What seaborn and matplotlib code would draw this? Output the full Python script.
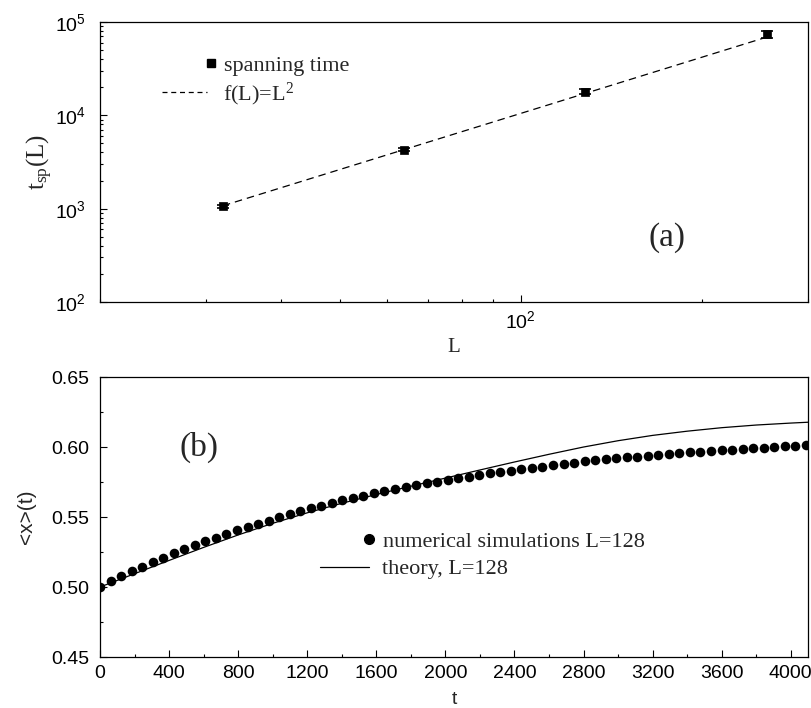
import numpy as np
import pandas as pd
import matplotlib
matplotlib.use("Agg")
import matplotlib.pyplot as plt
import seaborn as sns
from matplotlib.lines import Line2D
from matplotlib.ticker import FuncFormatter, NullFormatter, LogLocator, MultipleLocator


# === data: panel (a) spanning time ===
L_vals = [32, 64, 128, 256]
t_span = [1066, 4285, 17950, 73800]
t_span_err = [40, 150, 1000, 7000]
L_fit = [32, 64, 128, 256]
t_fit = [1075, 4300, 17200, 68800]

# === data: panel (b) <x>(t) ===
t_sim = [0, 61, 122, 183, 244, 305, 366, 427, 488, 549, 610, 671, 732, 793,
         854, 915, 976, 1037, 1098, 1159, 1220, 1281, 1342, 1403, 1464, 1525,
         1586, 1647, 1708, 1769, 1830, 1891, 1952, 2013, 2074, 2135, 2196,
         2257, 2318, 2379, 2440, 2501, 2562, 2623, 2684, 2745, 2806, 2867,
         2928, 2989, 3050, 3111, 3172, 3233, 3294, 3355, 3416, 3477, 3538,
         3599, 3660, 3721, 3782, 3843, 3904, 3965, 4026, 4087]
x_sim = [0.5000, 0.5043, 0.5076, 0.5114, 0.5146, 0.5181, 0.5210, 0.5243,
         0.5271, 0.5300, 0.5329, 0.5353, 0.5381, 0.5405, 0.5429, 0.5453,
         0.5474, 0.5498, 0.5521, 0.5543, 0.5562, 0.5578, 0.5600, 0.5619,
         0.5634, 0.5653, 0.5669, 0.5684, 0.5698, 0.5712, 0.5726, 0.5741,
         0.5753, 0.5764, 0.5776, 0.5788, 0.5803, 0.5812, 0.5821, 0.5831,
         0.5841, 0.5850, 0.5860, 0.5869, 0.5880, 0.5889, 0.5898, 0.5905,
         0.5912, 0.5919, 0.5926, 0.5931, 0.5938, 0.5945, 0.5953, 0.5957,
         0.5962, 0.5967, 0.5971, 0.5976, 0.5981, 0.5986, 0.5990, 0.5995,
         0.6000, 0.6005, 0.6010, 0.6014]
t_theory = [0, 200, 400, 600, 800, 1000, 1200, 1400, 1600, 1800, 2000, 2200,
            2400, 2600, 2800, 3000, 3200, 3400, 3600, 3800, 4000, 4100]
x_theory = [0.5000, 0.5095, 0.5190, 0.5283, 0.5372, 0.5455, 0.5530, 0.5598,
            0.5661, 0.5720, 0.5778, 0.5836, 0.5893, 0.5948, 0.6000, 0.6045,
            0.6083, 0.6113, 0.6138, 0.6157, 0.6171, 0.6177]

span_df = pd.DataFrame({"L": L_vals, "t": t_span})
fit_df = pd.DataFrame({"L": L_fit, "t": t_fit})
sim_df = pd.DataFrame({"t": t_sim, "x": x_sim})
th_df = pd.DataFrame({"t": t_theory, "x": x_theory})

# === style ===
sns.set_style("ticks")
plt.rcParams["font.family"] = ["Liberation Sans", "DejaVu Sans"]
plt.rcParams["mathtext.fontset"] = "custom"
plt.rcParams["mathtext.rm"] = "Liberation Serif"
plt.rcParams["mathtext.it"] = "Liberation Serif:italic"
plt.rcParams["mathtext.bf"] = "Liberation Serif:bold"
plt.rcParams["mathtext.sf"] = "Liberation Sans"
plt.rcParams["axes.linewidth"] = 0.9
SERIF = ["Liberation Serif", "DejaVu Serif"]

fig = plt.figure(figsize=(8.12, 7.08), dpi=100)
ax1 = fig.add_axes([0.1232, 0.5734, 0.8719, 0.3955])
ax2 = fig.add_axes([0.1232, 0.0720, 0.8719, 0.3955])

# === panel (a) ===
ax1.set_xscale("log")
ax1.set_yscale("log")
ax1.errorbar(L_vals, t_span, yerr=t_span_err, fmt="none", ecolor="black",
             elinewidth=0.9, capsize=4, capthick=1.2, zorder=3)
sns.lineplot(data=fit_df, x="L", y="t", ax=ax1, color="black", lw=0.9,
             linestyle=(0, (6, 4)), zorder=2)
sns.scatterplot(data=span_df, x="L", y="t", ax=ax1, marker="s", s=36,
                color="black", edgecolor="black", linewidth=0.5, zorder=4)
ax1.set_xlim(20, 300)
ax1.set_ylim(1e2, 1e5)
ax1.xaxis.set_major_locator(LogLocator(base=10))
ax1.xaxis.set_minor_locator(LogLocator(base=10, subs=np.arange(2, 10)))
ax1.yaxis.set_minor_locator(LogLocator(base=10, subs=np.arange(2, 10)))
sci = FuncFormatter(lambda v, p: r"$\mathsf{10^{%d}}$" % round(np.log10(v)))
ax1.xaxis.set_major_formatter(sci)
ax1.yaxis.set_major_formatter(sci)
ax1.xaxis.set_minor_formatter(NullFormatter())
ax1.yaxis.set_minor_formatter(NullFormatter())
ax1.set_xlabel("L", family=SERIF, fontsize=15, labelpad=4)
ax1.set_ylabel(r"t$_{\mathrm{sp}}$(L)", family=SERIF, fontsize=18, labelpad=0)
ax1.text(0.801, 0.229, "(a)", transform=ax1.transAxes, family=SERIF,
         fontsize=24, ha="center", va="center")

h_sq = Line2D([], [], marker="s", ls="none", color="black", markersize=6)
h_dash = Line2D([], [], ls=(0, (4, 3)), color="black", lw=0.9)
leg1 = ax1.legend([h_sq], ["spanning time"], loc="center left",
                  bbox_to_anchor=(0.147, 0.844), frameon=False,
                  prop={"family": SERIF, "size": 16}, handlelength=0.6,
                  handletextpad=0.3, borderpad=0, borderaxespad=0)
ax1.add_artist(leg1)
ax1.legend([h_dash], [r"f(L)=L$^{2}$"], loc="center left",
           bbox_to_anchor=(0.0876, 0.743), frameon=False,
           prop={"family": SERIF, "size": 16}, handlelength=2.0,
           handletextpad=0.75, borderpad=0, borderaxespad=0)

# === panel (b) ===
sns.lineplot(data=th_df, x="t", y="x", ax=ax2, color="black", lw=0.9, zorder=2)
sns.scatterplot(data=sim_df, x="t", y="x", ax=ax2, marker="o", s=48,
                color="black", edgecolor="black", linewidth=0, zorder=3)
ax2.set_xlim(0, 4100)
ax2.set_ylim(0.45, 0.65)
ax2.xaxis.set_major_locator(MultipleLocator(400))
ax2.xaxis.set_minor_locator(MultipleLocator(200))
ax2.yaxis.set_major_locator(MultipleLocator(0.05))
ax2.yaxis.set_minor_locator(MultipleLocator(0.025))
ax2.yaxis.set_major_formatter(FuncFormatter(lambda v, p: "%.2f" % v))
ax2.set_xlabel("t", fontsize=14, labelpad=6)
ax2.set_ylabel("<x>(t)", fontsize=15, labelpad=11)
ax2.text(0.14, 0.75, "(b)", transform=ax2.transAxes, family=SERIF,
         fontsize=24, ha="center", va="center")

h_dot = Line2D([], [], marker="o", ls="none", color="black", markersize=7)
h_line = Line2D([], [], color="black", lw=0.9)
leg2 = ax2.legend([h_dot], ["numerical simulations L=128"], loc="center left",
                  bbox_to_anchor=(0.371, 0.411), frameon=False,
                  prop={"family": SERIF, "size": 16}, handlelength=0.6,
                  handletextpad=0.3, borderpad=0, borderaxespad=0)
ax2.add_artist(leg2)
ax2.legend([h_line], ["theory, L=128"], loc="center left",
           bbox_to_anchor=(0.3107, 0.314), frameon=False,
           prop={"family": SERIF, "size": 16}, handlelength=2.2,
           handletextpad=0.6, borderpad=0, borderaxespad=0)

for ax in (ax1, ax2):
    ax.tick_params(which="both", direction="in", top=False, right=False,
                   colors="black", labelsize=14, width=0.8)
    ax.tick_params(which="major", length=5)
    ax.tick_params(which="minor", length=2.5)
    ax.tick_params(axis="y", pad=8)
    ax.tick_params(axis="x", pad=6)
    for sp in ax.spines.values():
        sp.set_visible(True)
        sp.set_color("black")
ax1.tick_params(axis="y", pad=10)

fig.savefig("out.png", dpi=100)
